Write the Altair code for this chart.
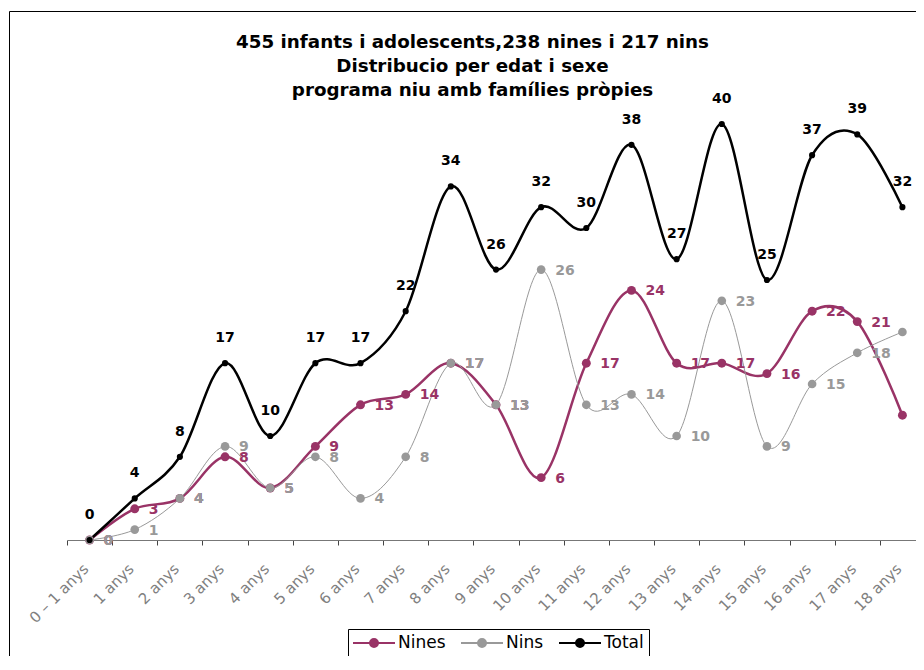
import altair as alt
import pandas as pd

AGES = ["0 – 1 anys", "1 anys", "2 anys", "3 anys", "4 anys", "5 anys", "6 anys",
        "7 anys", "8 anys", "9 anys", "10 anys", "11 anys", "12 anys", "13 anys",
        "14 anys", "15 anys", "16 anys", "17 anys", "18 anys"]
SERIES = ["Nines", "Nins", "Total"]
NINES = [0, 3, 4, 8, 5, 9, 13, 14, 17, 13, 6, 17, 24, 17, 17, 16, 22, 21, 12]
NINS = [0, 1, 4, 9, 5, 8, 4, 8, 17, 13, 26, 13, 14, 10, 23, 9, 15, 18, 20]
TOTAL = [0, 4, 8, 17, 10, 17, 17, 22, 34, 26, 32, 30, 38, 27, 40, 25, 37, 39, 32]
TITLE_LINES = ["455 infants i adolescents,238 nines i 217 nins",
               "Distribucio per edat i sexe",
               "programa niu amb famílies pròpies"]
COLORS = ["#993366", "#999999", "#000000"]

rows = []
for s, vals in zip(SERIES, [NINES, NINS, TOTAL]):
    for a, v in zip(AGES, vals):
        rows.append({"age": a, "series": s, "value": v})
df = pd.DataFrame(rows)

FONT = "DejaVu Sans"

xenc = alt.X(
    "age:N", sort=AGES, bandPosition=0.5,
    scale=alt.Scale(type="band", paddingInner=0, paddingOuter=0, range=[0, 858]),
    axis=alt.Axis(title=None, labelAngle=-45, labelAlign="right", labelBaseline="middle",
                  labelFont=FONT, labelFontSize=15, labelColor="#808080",
                  labelPadding=21, labelOffset=-4, labelOverlap=False, labelFlush=False,
                  tickBand="extent", tickSize=5, tickColor="#444444",
                  domainColor="#777777", domainWidth=1, grid=False),
)
yenc = alt.Y("value:Q", scale=alt.Scale(domain=[0, 45]), axis=None)
color_scale = alt.Scale(domain=SERIES, range=COLORS)


def ring_path(cx, radii):
    parts = []
    for r in radii:
        parts.append(f"M{cx + r:.4f},0A{r:.4f},{r:.4f} 0 1,1 {cx - r:.4f},0"
                     f"A{r:.4f},{r:.4f} 0 1,1 {cx + r:.4f},0")
    return "".join(parts)


legend_symbol = "M-1.125,0H4.125" + ring_path(1.5, [0.5, 0.3125, 0.125, 0.04])

legend = alt.Legend(orient="none", legendX=281, legendY=557, direction="horizontal",
                    title=None, symbolType=legend_symbol, symbolSize=256,
                    symbolStrokeWidth=2, labelFont=FONT, labelFontSize=17,
                    labelColor="#000000", labelOffset=27, columnPadding=11,
                    padding=5, strokeColor="#000000")

base = alt.Chart(df)
one = pd.DataFrame({"k": [0]})

border = alt.Chart(one).mark_rect(fill="transparent", stroke="#000000", strokeWidth=1).encode(
    x=alt.value(-57.5), x2=alt.value(1000), y=alt.value(-60.5), y2=alt.value(800))

title = alt.Chart(one).mark_text(
    text=TITLE_LINES, font=FONT, fontSize=18.3, fontWeight="bold", lineHeight=24,
    align="center", baseline="middle", color="#000000").encode(
    x=alt.value(405.5), y=alt.value(-29))

widths = {"Nines": 2.5, "Nins": 1, "Total": 2.5}
sizes = {"Nines": 80, "Nins": 75, "Total": 38}

lines = []
points = []
for s in SERIES:
    col = alt.Color("series:N", scale=color_scale, legend=legend if s == "Nines" else None)
    lines.append(base.transform_filter(alt.datum.series == s).mark_line(
        interpolate="cardinal", tension=0, strokeWidth=widths[s]).encode(
        x=xenc, y=yenc, color=col))
    points.append(base.transform_filter(alt.datum.series == s).mark_circle(
        size=sizes[s], opacity=1).encode(
        x=xenc, y=yenc, color=alt.Color("series:N", scale=color_scale, legend=None)))

side_labels = base.transform_filter(alt.datum.series != "Total").mark_text(
    align="left", baseline="middle", dx=14, dy=1, font=FONT, fontSize=14,
    fontWeight="bold").encode(
    x=xenc, y=yenc, text="value:Q",
    color=alt.Color("series:N", scale=color_scale, legend=None))

total_labels = base.transform_filter(alt.datum.series == "Total").mark_text(
    align="center", baseline="middle", dy=-25, font=FONT, fontSize=14,
    fontWeight="bold", color="#000000").encode(
    x=xenc, y=yenc, text="value:Q")

chart = alt.layer(border, title, *lines, *points, side_labels, total_labels).properties(
    width=849, height=468,
    autosize=alt.AutoSizeParams(type="none"),
    padding={"left": 59, "top": 64, "right": 0, "bottom": 116},
).configure_view(strokeWidth=0)

chart.save("out.html", embed_options={"renderer": "svg", "actions": False})
